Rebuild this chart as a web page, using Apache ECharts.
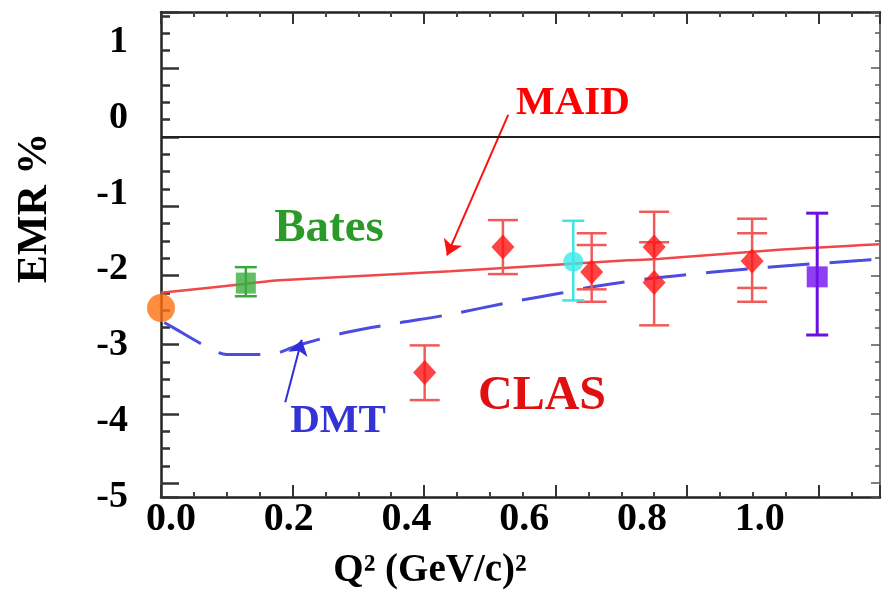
<!DOCTYPE html>
<html lang="en">
<head>
<meta charset="UTF-8">
<title>EMR vs Q2</title>
<script src="https://cdn.jsdelivr.net/npm/echarts@6/dist/echarts.min.js"></script>
<style>
  html, body { margin: 0; padding: 0; background: #fff; }
  #chart { width: 883px; height: 591px; }
</style>
</head>
<body>
<div id="chart"></div>
<script>
// tick labels
const xTickLabels = ['0.0', '0.2', '0.4', '0.6', '0.8', '1.0'];
const yTickLabels = ['1', '0', '-1', '-2', '-3', '-4', '-5'];

// MAID curve
const maidQ = [0, 0.13, 0.18, 0.44, 0.54, 0.71, 0.76, 0.94, 1.094];
const maidV = [-2.25, -2.12, -2.07, -1.94, -1.88, -1.78, -1.76, -1.63, -1.55];

// DMT curve
const dmtQ = [0.005, 0.018, 0.064, 0.10, 0.166, 0.211, 0.283, 0.359, 0.435, 0.535, 0.611, 0.652, 0.739, 0.840, 0.952, 1.068, 1.094];
const dmtV = [-2.68, -2.75, -3.0, -3.14, -3.14, -3.0, -2.82, -2.69, -2.57, -2.38, -2.25, -2.17, -2.05, -1.95, -1.86, -1.78, -1.76];

// photon point (Q2 = 0)
const photonQ = [0];
const photonV = [-2.47];

// Bates
const batesQ = [0.129];
const batesV = [-2.11];
const batesHi = [-1.88];
const batesLo = [-2.30];

// CLAS (outer and inner error caps)
const clasQ = [0.401, 0.520, 0.655, 0.750, 0.750, 0.899];
const clasV = [-3.40, -1.59, -1.95, -1.59, -2.10, -1.79];
const clasHi = [-3.01, -1.20, -1.39, -1.08, -1.52, -1.18];
const clasLo = [-3.80, -1.98, -2.38, null, -2.72, -2.38];
const clasInHi = [null, null, -1.56, null, null, -1.39];
const clasInLo = [null, null, -2.20, null, null, -2.18];

// cyan point
const mamiQ = [0.627];
const mamiV = [-1.80];
const mamiHi = [-1.21];
const mamiLo = [-2.36];

// purple point
const hallAQ = [0.998];
const hallAV = [-2.02];
const hallAHi = [-1.10];
const hallALo = [-2.86];

const SERIF = '"Liberation Serif", "DejaVu Serif", serif';

function pairs(qs, vs) {
  return qs.map((q, i) => [q, vs[i]]);
}

function errorBars(qs, vs, his, los, color, capW, lw, inHi, inLo) {
  return {
    type: 'custom',
    xAxisIndex: 0,
    yAxisIndex: 0,
    z: 3,
    silent: true,
    renderItem: function (params, api) {
      const i = params.dataIndex;
      const c = api.coord([qs[i], vs[i]]);
      const top = his[i] == null ? c[1] : api.coord([qs[i], his[i]])[1];
      const bot = los[i] == null ? c[1] : api.coord([qs[i], los[i]])[1];
      const st = { stroke: color, lineWidth: lw };
      const children = [
        { type: 'line', shape: { x1: c[0], y1: top, x2: c[0], y2: bot }, style: st }
      ];
      const caps = [];
      if (his[i] != null) caps.push(top);
      if (los[i] != null) caps.push(bot);
      if (inHi && inHi[i] != null) caps.push(api.coord([qs[i], inHi[i]])[1]);
      if (inLo && inLo[i] != null) caps.push(api.coord([qs[i], inLo[i]])[1]);
      caps.forEach(y => {
        children.push({
          type: 'line',
          shape: { x1: c[0] - capW / 2, y1: y, x2: c[0] + capW / 2, y2: y },
          style: st
        });
      });
      return { type: 'group', children: children };
    },
    data: pairs(qs, vs)
  };
}

function tickAxis(extra) {
  return Object.assign({
    type: 'value',
    gridIndex: 0,
    axisLine: { show: true, onZero: false, lineStyle: { color: '#222', width: 2.5 } },
    axisTick: { show: true, inside: true, length: 12, lineStyle: { color: '#333', width: 2 } },
    minorTick: { show: true, splitNumber: 4, length: 5, lineStyle: { color: '#444', width: 2 } },
    axisLabel: { show: false },
    splitLine: { show: false }
  }, extra);
}

const chart = echarts.init(document.getElementById('chart'));

const option = {
  animation: false,
  backgroundColor: '#fff',
  grid: [
    { left: 161, top: 12, width: 719, height: 485, containLabel: false, outerBoundsMode: 'none' },
    { left: 161, top: 12, width: 719, height: 485, containLabel: false, outerBoundsMode: 'none' }
  ],
  xAxis: [
    tickAxis({ position: 'bottom', min: 0, max: 1.0935, interval: 0.2 }),
    tickAxis({ position: 'top', min: 0, max: 1.0935, interval: 0.2 }),
    {
      // label-only axis (labels in the figure are spaced differently from the ticks)
      type: 'value', gridIndex: 1, position: 'bottom',
      min: -0.017, max: 1.204, minInterval: 0.2, maxInterval: 0.2,
      axisLine: { show: false }, axisTick: { show: false }, splitLine: { show: false },
      axisLabel: {
        show: true, margin: 3, color: '#000', fontFamily: SERIF, fontWeight: 'bold', fontSize: 40,
        formatter: function (v) {
          const s = v.toFixed(1);
          return (Math.abs(v - parseFloat(s)) < 1e-6 && xTickLabels.includes(s)) ? s : '';
        }
      }
    }
  ],
  yAxis: [
    tickAxis({
      position: 'left', min: -5.2, max: 1.806, minInterval: 1, maxInterval: 1,
      axisTick: { show: true, inside: true, length: 18, lineStyle: { color: '#333', width: 2.5 } },
      minorTick: { show: true, splitNumber: 4, length: 9, lineStyle: { color: '#333', width: 2.5 } }
    }),
    tickAxis({
      position: 'right', min: -5.2, max: 1.806, minInterval: 1, maxInterval: 1,
      axisLine: { show: true, onZero: false, lineStyle: { color: '#444', width: 1.5 } },
      axisTick: { show: true, inside: true, length: 9, lineStyle: { color: '#555', width: 1.5 } },
      minorTick: { show: true, splitNumber: 4, length: 5, lineStyle: { color: '#555', width: 1.5 } }
    }),
    {
      type: 'value', gridIndex: 1, position: 'left',
      min: -5, max: 1.4, interval: 1,
      axisLine: { show: false }, axisTick: { show: false }, splitLine: { show: false },
      axisLabel: {
        show: true, margin: 33, color: '#000', fontFamily: SERIF, fontWeight: 'bold', fontSize: 38,
        formatter: function (v) {
          const s = String(Math.round(v));
          return (Math.abs(v - Math.round(v)) < 1e-6 && yTickLabels.includes(s)) ? s : '';
        }
      }
    }
  ],
  series: [
    {
      name: 'MAID', type: 'line', xAxisIndex: 0, yAxisIndex: 0, z: 2,
      data: pairs(maidQ, maidV), showSymbol: false, smooth: 0.3, silent: true,
      lineStyle: { color: '#f04848', width: 2.5 },
      markLine: {
        silent: true, symbol: ['none', 'arrow'], symbolSize: 15,
        itemStyle: { color: '#ff1010' },
        lineStyle: { color: '#ff1010', width: 2, type: 'solid' }, label: { show: false },
        data: [[{ coord: [0.528, 0.32] }, { coord: [0.435, -1.71] }]]
      }
    },
    {
      name: 'DMT', type: 'line', xAxisIndex: 0, yAxisIndex: 0, z: 2,
      data: pairs(dmtQ, dmtV), showSymbol: false, smooth: 0.3, silent: true,
      lineStyle: { color: '#4c4ce0', width: 3, type: [42, 20] },
      markLine: {
        silent: true, symbol: ['none', 'arrow'], symbolSize: 15,
        itemStyle: { color: '#2f2fd8' },
        lineStyle: { color: '#2f2fd8', width: 2, type: 'solid' }, label: { show: false },
        data: [[{ coord: [0.189, -3.83] }, { coord: [0.214, -2.93] }]]
      }
    },
    errorBars(batesQ, batesV, batesHi, batesLo, '#3aaa3a', 22, 2.5),
    errorBars(clasQ, clasV, clasHi, clasLo, '#f25a5a', 30, 2.5, clasInHi, clasInLo),
    errorBars(mamiQ, mamiV, mamiHi, mamiLo, '#40e4e4', 22, 2.5),
    errorBars(hallAQ, hallAV, hallAHi, hallALo, '#6a10e0', 22, 3),
    {
      name: 'photon', type: 'scatter', xAxisIndex: 0, yAxisIndex: 0, z: 4, clip: false,
      data: pairs(photonQ, photonV), symbol: 'circle', symbolSize: 28, silent: true,
      itemStyle: { color: '#ff7010' },
      markLine: {
        silent: true, symbol: ['none', 'none'], label: { show: false },
        lineStyle: { color: '#222', width: 2, type: 'solid' },
        data: [{ yAxis: 0 }]
      }
    },
    {
      name: 'Bates', type: 'scatter', xAxisIndex: 0, yAxisIndex: 0, z: 4,
      data: pairs(batesQ, batesV), symbol: 'rect', symbolSize: [20, 21], silent: true,
      itemStyle: { color: '#3cae40' }
    },
    {
      name: 'CLAS', type: 'scatter', xAxisIndex: 0, yAxisIndex: 0, z: 4,
      data: pairs(clasQ, clasV), symbol: 'diamond', symbolSize: [23, 25], silent: true,
      itemStyle: { color: '#ff1414' }
    },
    {
      name: 'MAMI', type: 'scatter', xAxisIndex: 0, yAxisIndex: 0, z: 4,
      data: pairs(mamiQ, mamiV), symbol: 'circle', symbolSize: 20, silent: true,
      itemStyle: { color: '#3ce8e8' }
    },
    {
      name: 'Hall A', type: 'scatter', xAxisIndex: 0, yAxisIndex: 0, z: 4,
      data: pairs(hallAQ, hallAV), symbol: 'rect', symbolSize: [21, 21], silent: true,
      itemStyle: { color: '#7010ee' }
    }
  ],
  graphic: [
    {
      type: 'text', x: 573, y: 103, silent: true,
      style: { text: 'MAID', fill: '#ff0000', font: 'bold 41px ' + SERIF, textAlign: 'center', textVerticalAlign: 'middle', align: 'center', verticalAlign: 'middle' }
    },
    {
      type: 'text', x: 329, y: 229, silent: true,
      style: { text: 'Bates', fill: '#2a9a2a', font: 'bold 47px ' + SERIF, textAlign: 'center', textVerticalAlign: 'middle', align: 'center', verticalAlign: 'middle' }
    },
    {
      type: 'text', x: 542, y: 397, silent: true,
      style: { text: 'CLAS', fill: '#e01010', font: 'bold 48px ' + SERIF, textAlign: 'center', textVerticalAlign: 'middle', align: 'center', verticalAlign: 'middle' }
    },
    {
      type: 'text', x: 338, y: 421, silent: true,
      style: { text: 'DMT', fill: '#3434d4', font: 'bold 41px ' + SERIF, textAlign: 'center', textVerticalAlign: 'middle', align: 'center', verticalAlign: 'middle' }
    },
    {
      type: 'text', x: 35, y: 208, rotation: Math.PI / 2, silent: true,
      style: { text: 'EMR %', fill: '#000', font: 'bold 42px ' + SERIF, textAlign: 'center', textVerticalAlign: 'middle', align: 'center', verticalAlign: 'middle' }
    },
    {
      type: 'text', x: 430, y: 571, silent: true,
      style: { text: 'Q² (GeV/c)²', fill: '#000', font: 'bold 39px ' + SERIF, textAlign: 'center', textVerticalAlign: 'middle', align: 'center', verticalAlign: 'middle' }
    }
  ]
};

chart.setOption(option);
</script>
</body>
</html>
